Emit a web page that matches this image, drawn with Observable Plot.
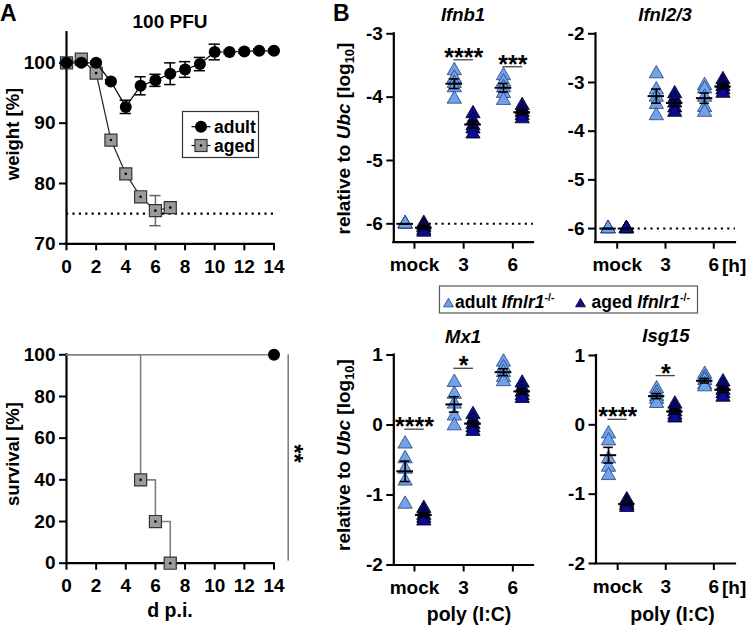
<!DOCTYPE html>
<html><head><meta charset="utf-8">
<script src="https://cdn.jsdelivr.net/npm/d3@7"></script>
<script src="https://cdn.jsdelivr.net/npm/@observablehq/plot@0.6"></script>
<style>
body{margin:0;background:#fff;}
#chart{position:relative;width:749px;height:627px;overflow:hidden;background:#fff;}
#chart svg{position:absolute;left:0;top:0;}
</style></head><body><div id="chart"></div>
<script>
// ---------- DATA ----------
// Panel A: weight (%)
const days = [0,1,2,3,4,5,6,7,8,9,10,11,12,13,14];
const adultWeight = [100,100,100,96.9,92.7,96.2,97.1,98.2,98.9,99.8,101.8,101.8,101.9,102,102];
const adultWeightSem = [0.2,0.3,0.3,0.3,1.1,1.5,1.0,1.8,1.3,1.1,1.3,0.3,0.3,0.3,0.3];
const agedDays = [0,1,2,3,4,5,6,7];
const agedWeight = [100,100.6,98.3,87.2,81.6,77.8,75.5,76.0];
const agedWeightSem = [0.2,0.3,0.4,0.4,0.4,0.8,2.5,0.4];
const weightThreshold = [75];
// Panel A: survival (%)
const survivalAdultDays = [0,14];
const survivalAdult = [100,100];
const survivalAgedDays = [0,5,6,7];
const survivalAged = [100,40,20,0];
const survivalSig = [{x:14.96, y1:1, y2:100, tx:15.32, ty:52.6, label:"**"}];
// Panel B: relative expression (log10), groups: mock, 3 h, 6 h
const timepoints = ["mock","3","6"];
const ifnb1Adult = [[-6,-6,-6,-6,-6],[-3.58,-3.70,-3.78,-3.85,-4.03],[-3.66,-3.76,-3.85,-3.94,-4.05]];
const ifnb1Aged  = [[-5.99,-6.03,-6.06,-6.1,-6.13],[-4.26,-4.37,-4.45,-4.5,-4.58],[-4.13,-4.19,-4.24,-4.29,-4.34]];
const ifnl23Adult = [[-6,-6,-6,-6,-6],[-2.82,-3.15,-3.3,-3.45,-3.68],[-3.06,-3.13,-3.3,-3.51,-3.61]];
const ifnl23Aged  = [[-6,-6,-6,-6,-6],[-3.23,-3.33,-3.42,-3.52,-3.61],[-2.94,-3.02,-3.08,-3.15,-3.22]];
const mx1Adult = [[-0.27,-0.48,-0.63,-0.8,-1.13],[0.61,0.44,0.3,0.13,-0.01],[0.9,0.82,0.75,0.68,0.62]];
const mx1Aged  = [[-1.19,-1.24,-1.29,-1.33,-1.37],[0.15,0.07,0.01,-0.04,-0.09],[0.6,0.53,0.47,0.42,0.38]];
const isg15Adult = [[-0.13,-0.23,-0.49,-0.61,-0.73],[0.52,0.46,0.41,0.37,0.31],[0.73,0.68,0.64,0.58,0.55]];
const isg15Aged  = [[-1.08,-1.12,-1.15,-1.17,-1.19],[0.3,0.24,0.19,0.14,0.1],[0.62,0.56,0.5,0.45,0.4]];
const detectionLimit = -6;
const sigIfnb1 = [{t:1,y:-3.41,label:"****"},{t:2,y:-3.52,label:"***"}];
const sigIfnl23 = [];
const sigMx1 = [{t:0,y:-0.06,label:"****"},{t:1,y:0.81,label:"*"}];
const sigIsg15 = [{t:0,y:0.08,label:"****"},{t:1,y:0.71,label:"*"}];

// ---------- STYLE ----------
const FONT = '"Liberation Sans", Arial, Helvetica, sans-serif';
const W = 749, H = 627;
const LIGHT = "#74a2ea", LIGHT_STROKE = "#203f7a";
const DARK = "#0b0b98", DARK_STROKE = "#000000";
const GREY = "#9b9b9b";
const TICK_FONT = 19;
const chart = document.getElementById("chart");

function panel(o) {
  const svg = Plot.plot({
    width: W, height: H,
    marginLeft: o.x0, marginRight: W - o.x1, marginTop: o.yTop, marginBottom: H - o.yBottom,
    x: {domain: o.xDomain},
    y: {domain: o.yDomain},
    style: {background: "transparent", overflow: "visible", fontFamily: FONT, maxWidth: "none"},
    marks: [
      Plot.ruleX([o.xDomain[0]], {stroke: "black", strokeWidth: 2.2, strokeLinecap: "square"}),
      Plot.ruleY([o.yDomain[0]], {stroke: "black", strokeWidth: 2.2, strokeLinecap: "square"}),
      Plot.axisX({ticks: o.xTicks, tickFormat: o.xFormat, tickSize: 7, tickPadding: 8.5, strokeWidth: 2, fontSize: TICK_FONT, fontWeight: "bold", label: null}),
      Plot.axisY({ticks: o.yTicks, tickFormat: d => String(d), tickSize: 7, tickPadding: 4, strokeWidth: 2, fontSize: TICK_FONT, fontWeight: "bold", label: null}),
      ...o.marks
    ]
  });
  chart.appendChild(svg);
}

// ---------- Panel A: weight ----------
const adultW = days.map((d,i) => ({day: d, w: adultWeight[i], sem: adultWeightSem[i]}));
const agedW = agedDays.map((d,i) => ({day: d, w: agedWeight[i], sem: agedWeightSem[i]}));
function errMarks(data, stroke) {
  return [
    Plot.ruleX(data, {x: "day", y1: d => d.w - d.sem, y2: d => d.w + d.sem, stroke, strokeWidth: 1.5}),
    Plot.ruleY(data, {y: d => d.w + d.sem, x1: d => d.day - 0.38, x2: d => d.day + 0.38, stroke, strokeWidth: 1.5}),
    Plot.ruleY(data, {y: d => d.w - d.sem, x1: d => d.day - 0.38, x2: d => d.day + 0.38, stroke, strokeWidth: 1.5})
  ];
}
panel({
  x0: 66, x1: 273.5, yTop: 32.2, yBottom: 243.3,
  xDomain: [0, 14], yDomain: [70, 105],
  xTicks: d3.range(0, 15, 2), xFormat: d => String(d), yTicks: [70, 80, 90, 100],
  marks: [
    Plot.ruleY(weightThreshold, {strokeDasharray: "2.2,4.2", strokeWidth: 2.2, stroke: "black"}),
    ...errMarks(agedW, "#666"),
    Plot.line(agedW, {x: "day", y: "w", stroke: "#222", strokeWidth: 1.2}),
    Plot.dot(agedW, {x: "day", y: "w", symbol: "square", r: 6.8, fill: GREY, stroke: "#333", strokeWidth: 1.2}),
    Plot.dot(agedW, {x: "day", y: "w", r: 1.3, fill: "black"}),
    ...errMarks(adultW, "black"),
    Plot.line(adultW, {x: "day", y: "w", stroke: "black", strokeWidth: 1.2}),
    Plot.dot(adultW, {x: "day", y: "w", r: 6, fill: "black"})
  ]
});

// ---------- Panel A: survival ----------
const survAdult = survivalAdultDays.map((d,i) => ({day: d, s: survivalAdult[i]}));
const survAged = survivalAgedDays.map((d,i) => ({day: d, s: survivalAged[i]}));
panel({
  x0: 66, x1: 273.5, yTop: 354.3, yBottom: 562.7,
  xDomain: [0, 14], yDomain: [0, 100],
  xTicks: d3.range(0, 15, 2), xFormat: d => String(d), yTicks: [0, 20, 40, 60, 80, 100],
  marks: [
    Plot.line(survAdult, {x: "day", y: "s", stroke: "#7f7f7f", strokeWidth: 1.6}),
    Plot.line(survAged, {x: "day", y: "s", curve: "step-after", stroke: "#7f7f7f", strokeWidth: 1.6}),
    Plot.ruleX(survivalSig, {x: "x", y1: "y1", y2: "y2", stroke: "#7f7f7f", strokeWidth: 1.6}),
    Plot.text(survivalSig, {x: "tx", y: "ty", text: "label", rotate: 90, fontSize: 24, fontWeight: "bold"}),
    Plot.dot(survAged.slice(1), {x: "day", y: "s", symbol: "square", r: 6.8, fill: GREY, stroke: "#333", strokeWidth: 1.2}),
    Plot.dot(survAged.slice(1), {x: "day", y: "s", r: 1.3, fill: "black"}),
    Plot.dot(survAdult.slice(-1), {x: "day", y: "s", r: 6, fill: "black"})
  ]
});

// ---------- Panel B ----------
function geneMarks(adultVals, agedVals, sig, lod, xMax) {
  const off = 0.19;
  const adultPts = [], agedPts = [], stats = [];
  const summarize = (vals, x) => {
    const m = d3.mean(vals), s = d3.deviation(vals) / Math.sqrt(vals.length);
    stats.push({x, m, s});
  };
  timepoints.forEach((t, i) => {
    adultVals[i].forEach(v => adultPts.push({x: i - off, v}));
    agedVals[i].forEach(v => agedPts.push({x: i + off, v}));
    summarize(adultVals[i], i - off);
    summarize(agedVals[i], i + off);
  });
  const marks = [];
  if (lod) marks.push(Plot.ruleY([detectionLimit], {x1: 0.3, x2: xMax, strokeDasharray: "2.2,4.2", strokeWidth: 2, stroke: "black"}));
  marks.push(
    Plot.dot(adultPts, {x: "x", y: "v", symbol: "triangle", r: 5.3, fill: LIGHT, stroke: LIGHT_STROKE, strokeWidth: 0.8}),
    Plot.dot(agedPts, {x: "x", y: "v", symbol: "triangle", r: 5.3, fill: DARK, stroke: DARK_STROKE, strokeWidth: 0.8}),
    Plot.ruleX(stats, {x: "x", y1: d => d.m - d.s, y2: d => d.m + d.s, stroke: "black", strokeWidth: 1.7}),
    Plot.ruleY(stats, {y: "m", x1: d => d.x - 0.17, x2: d => d.x + 0.17, stroke: "black", strokeWidth: 2}),
    Plot.ruleY(stats, {y: d => d.m + d.s, x1: d => d.x - 0.1, x2: d => d.x + 0.1, stroke: "black", strokeWidth: 1.6}),
    Plot.ruleY(stats, {y: d => d.m - d.s, x1: d => d.x - 0.1, x2: d => d.x + 0.1, stroke: "black", strokeWidth: 1.6}),
    Plot.ruleY(sig, {y: "y", x1: d => d.t - 0.2, x2: d => d.t + 0.2, stroke: "#444", strokeWidth: 1.3}),
    Plot.text(sig, {x: "t", y: "y", text: "label", lineAnchor: "bottom", dy: 6, fontSize: 25, fontWeight: "bold"})
  );
  return marks;
}
const tpFormat = i => timepoints[i];
panel({
  x0: 393.3, x1: 533, yTop: 33.3, yBottom: 241.7,
  xDomain: [-0.42, 2.42], yDomain: [-6.29, -3],
  xTicks: [0, 1, 2], xFormat: tpFormat, yTicks: [-6, -5, -4, -3],
  marks: geneMarks(ifnb1Adult, ifnb1Aged, sigIfnb1, true, 2.42)
});
panel({
  x0: 595, x1: 735, yTop: 33.3, yBottom: 241.7,
  xDomain: [-0.45, 2.45], yDomain: [-6.28, -2],
  xTicks: [0, 1, 2], xFormat: tpFormat, yTicks: [-6, -5, -4, -3, -2],
  marks: geneMarks(ifnl23Adult, ifnl23Aged, sigIfnl23, true, 2.45)
});
panel({
  x0: 393.3, x1: 533, yTop: 354.5, yBottom: 564.5,
  xDomain: [-0.42, 2.42], yDomain: [-2, 1],
  xTicks: [0, 1, 2], xFormat: tpFormat, yTicks: [-2, -1, 0, 1],
  marks: geneMarks(mx1Adult, mx1Aged, sigMx1, false, 2.42)
});
panel({
  x0: 595.5, x1: 735, yTop: 355, yBottom: 563,
  xDomain: [-0.45, 2.45], yDomain: [-2, 1],
  xTicks: [0, 1, 2], xFormat: tpFormat, yTicks: [-2, -1, 0, 1],
  marks: geneMarks(isg15Adult, isg15Aged, sigIsg15, false, 2.45)
});

// ---------- Overlay: titles, axis labels, legends ----------
const ov = d3.select(chart).append("svg").attr("width", W).attr("height", H)
  .style("font-family", FONT).style("font-weight", "bold");
function txt(x, y, parts, {size = 18, anchor = "start", rotate = 0} = {}) {
  const t = ov.append("text").attr("text-anchor", anchor).attr("font-size", size)
    .attr("transform", `translate(${x},${y}) rotate(${rotate})`);
  (typeof parts === "string" ? [parts] : parts).forEach(p => {
    if (typeof p === "string") { t.append("tspan").text(p); return; }
    const s = t.append("tspan").text(p.t);
    if (p.i) s.attr("font-style", "italic");
    if (p.sub) s.attr("font-size", size * 0.68).attr("dy", size * 0.22);
    if (p.sup) s.attr("font-size", size * 0.6).attr("dy", -size * 0.4);
    if (p.back) s.attr("dy", p.back);
  });
  return t;
}
txt(0, 21, "A", {size: 23});
txt(333, 21, "B", {size: 23});
txt(170, 27.5, "100 PFU", {size: 19, anchor: "middle"});
txt(18.5, 134, "weight [%]", {size: 18.5, anchor: "middle", rotate: -90});
txt(18.5, 454, "survival [%]", {size: 18.5, anchor: "middle", rotate: -90});
txt(170, 617, "d p.i.", {size: 19.5, anchor: "middle"});
const relLabel = ["relative to ", {t: "Ubc", i: true}, " [log", {t: "10", sub: true}, {t: "]", back: -19 * 0.22}];
txt(350, 138.5, relLabel, {size: 19, anchor: "middle", rotate: -90});
txt(350, 455, relLabel, {size: 19, anchor: "middle", rotate: -90});
txt(463, 21, [{t: "Ifnb1", i: true}], {size: 18.5, anchor: "middle"});
txt(665, 21, [{t: "Ifnl2/3", i: true}], {size: 18.5, anchor: "middle"});
txt(463, 342.5, [{t: "Mx1", i: true}], {size: 18.5, anchor: "middle"});
txt(666, 342, [{t: "Isg15", i: true}], {size: 18.5, anchor: "middle"});
txt(722, 272, "[h]", {size: TICK_FONT});
txt(722, 593.5, "[h]", {size: TICK_FONT});
txt(469, 621, "poly (I:C)", {size: 19.5, anchor: "middle"});
txt(672.5, 621, "poly (I:C)", {size: 19.5, anchor: "middle"});

// Legend A
ov.append("rect").attr("x", 182.5).attr("y", 111.5).attr("width", 76).attr("height", 46)
  .attr("fill", "white").attr("stroke", "#333").attr("stroke-width", 1.2);
ov.append("line").attr("x1", 191.5).attr("x2", 210.5).attr("y1", 126.7).attr("y2", 126.7).attr("stroke", "black").attr("stroke-width", 1.2);
ov.append("circle").attr("cx", 201).attr("cy", 126.7).attr("r", 6).attr("fill", "black");
ov.append("line").attr("x1", 191.5).attr("x2", 210.5).attr("y1", 145.5).attr("y2", 145.5).attr("stroke", "black").attr("stroke-width", 1.2);
ov.append("rect").attr("x", 195).attr("y", 139.5).attr("width", 12).attr("height", 12).attr("fill", GREY).attr("stroke", "#333").attr("stroke-width", 1.2);
ov.append("circle").attr("cx", 201).attr("cy", 145.5).attr("r", 1.3).attr("fill", "black");
txt(214, 133, "adult", {size: 17.5});
txt(214, 151.5, "aged", {size: 17.5});

// Legend B
ov.append("rect").attr("x", 439.5).attr("y", 286).attr("width", 258).attr("height", 27)
  .attr("fill", "white").attr("stroke", "#555").attr("stroke-width", 1.2);
const tri = d3.symbol(d3.symbolTriangle, 42);
ov.append("path").attr("d", tri()).attr("transform", "translate(448.5,304)").attr("fill", LIGHT).attr("stroke", LIGHT_STROKE).attr("stroke-width", 0.8);
ov.append("path").attr("d", tri()).attr("transform", "translate(580.5,304)").attr("fill", DARK).attr("stroke", DARK_STROKE).attr("stroke-width", 0.8);
txt(455, 308, ["adult ", {t: "Ifnlr1", i: true}, {t: "-/-", sup: true}], {size: 17.5});
txt(591.5, 308, ["aged ", {t: "Ifnlr1", i: true}, {t: "-/-", sup: true}], {size: 17.5});
</script>
</body></html>
